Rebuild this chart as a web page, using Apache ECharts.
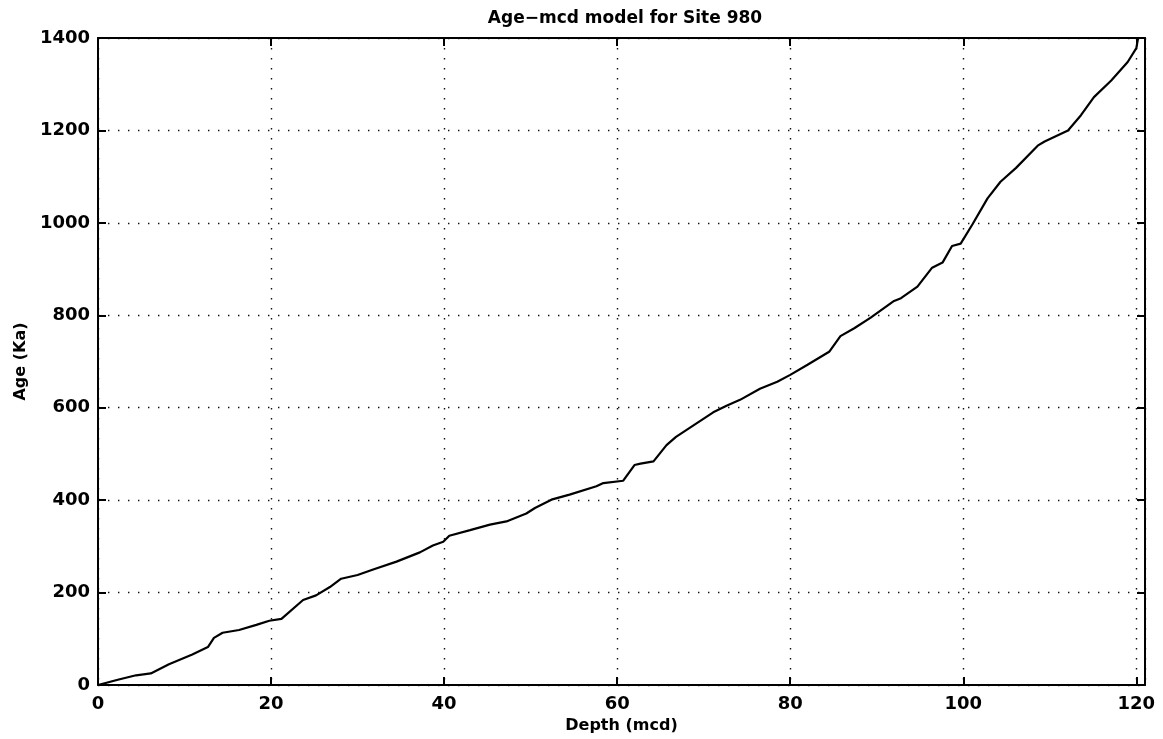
<!DOCTYPE html>
<html>
<head>
<meta charset="utf-8">
<title>Age-mcd model for Site 980</title>
<script src="https://cdn.jsdelivr.net/npm/echarts@6/dist/echarts.min.js"></script>
<style>
  html, body { margin: 0; padding: 0; background: #fff; }
  #chart { width: 1163px; height: 739px; }
</style>
</head>
<body>
<div id="chart"></div>
<script>
// Depth (mcd) and age (ka) tie points of the age model
const depth = [
  0, 2.4, 4.4, 6.1, 8.2, 10.9, 12.7, 13.4, 14.4, 16.3, 18.3, 19.8, 21.2,
  23.7, 25.2, 26.8, 28.1, 30.0, 31.8, 34.5, 37.2, 38.7, 39.9, 40.6, 43.0,
  45.3, 47.2, 49.5, 50.5, 52.4, 54.5, 57.6, 58.4, 60.7, 62.0, 62.7, 64.2,
  65.7, 66.8, 71.1, 72.7, 74.2, 76.5, 78.5, 80.0, 82.0, 84.5, 85.8, 87.4,
  89.3, 92.0, 92.8, 94.7, 96.4, 97.6, 98.7, 99.7, 101.1, 102.8, 104.3,
  106.1, 108.6, 109.4, 112.1, 113.6, 115.1, 117.1, 119.0, 120.0, 120.2
];
const age = [
  0, 12, 21, 25, 45, 66, 82, 102, 113, 119, 130, 139, 143,
  184, 194, 212, 230, 238, 250, 267, 287, 302, 310, 323, 335,
  347, 354, 371, 383, 401, 412, 430, 437, 442, 476, 479, 484,
  519, 537, 590, 605, 617, 641, 656, 671, 693, 721, 755, 772,
  795, 831, 837, 862, 903, 914, 950, 955, 998, 1053, 1089,
  1119, 1167, 1176, 1200, 1233, 1272, 1308, 1348, 1378, 1400
];

// Axis ranges and tick spacing
const xRange = [0, 121];
const xStep = 20;
const yRange = [0, 1400];
const yStep = 200;

const titleText = 'Age\u2212mcd model for Site 980';
const xName = 'Depth (mcd)';
const yName = 'Age (Ka)';

const points = depth.map((d, i) => [d, age[i]]);

const FONT = 'DejaVu Sans';
const gridLine = { show: true, lineStyle: { color: '#111', width: 1.4, type: [1.4, 8.6] } };
const tickIn = { show: true, inside: true, length: 8, lineStyle: { color: '#000', width: 2 } };
const frame = { show: true, onZero: false, lineStyle: { color: '#000', width: 2 } };
const labelStyle = { fontFamily: FONT, fontSize: 18, fontWeight: 'bold', color: '#000' };
const nameStyle = { fontFamily: FONT, fontSize: 16, fontWeight: 'bold', color: '#000' };

const chart = echarts.init(document.getElementById('chart'), null, { renderer: 'canvas' });
chart.setOption({
  backgroundColor: '#fff',
  animation: false,
  title: {
    text: titleText,
    left: 620,
    top: 5,
    textAlign: 'center',
    textStyle: { fontFamily: FONT, fontSize: 17, fontWeight: 'bold', color: '#000' }
  },
  grid: { left: 98, right: 18, top: 38, bottom: 54, containLabel: false },
  xAxis: [
    {
      type: 'value', position: 'bottom',
      min: xRange[0], max: xRange[1], interval: xStep,
      name: xName, nameLocation: 'middle', nameGap: 29,
      nameTextStyle: nameStyle,
      axisLine: frame, axisTick: tickIn,
      axisLabel: Object.assign({}, labelStyle, {
        margin: 10,
        formatter: v => (v % xStep === 0 ? String(v) : '')
      }),
      splitLine: gridLine
    },
    {
      type: 'value', position: 'top',
      min: xRange[0], max: xRange[1], interval: xStep,
      axisLine: frame, axisTick: tickIn,
      axisLabel: { show: false }, splitLine: { show: false }
    }
  ],
  yAxis: [
    {
      type: 'value', position: 'left',
      min: yRange[0], max: yRange[1], interval: yStep,
      name: yName, nameLocation: 'middle', nameGap: 58,
      nameTextStyle: nameStyle,
      axisLine: frame, axisTick: tickIn,
      axisLabel: Object.assign({}, labelStyle, { margin: 8, formatter: v => String(v) }),
      splitLine: gridLine
    },
    {
      type: 'value', position: 'right',
      min: yRange[0], max: yRange[1], interval: yStep,
      axisLine: frame, axisTick: tickIn,
      axisLabel: { show: false }, splitLine: { show: false }
    }
  ],
  series: [
    {
      type: 'line',
      data: points,
      xAxisIndex: 0, yAxisIndex: 0,
      showSymbol: false,
      smooth: false,
      lineStyle: { color: '#000', width: 2.2 },
      z: 5
    }
  ]
});
</script>
</body>
</html>
